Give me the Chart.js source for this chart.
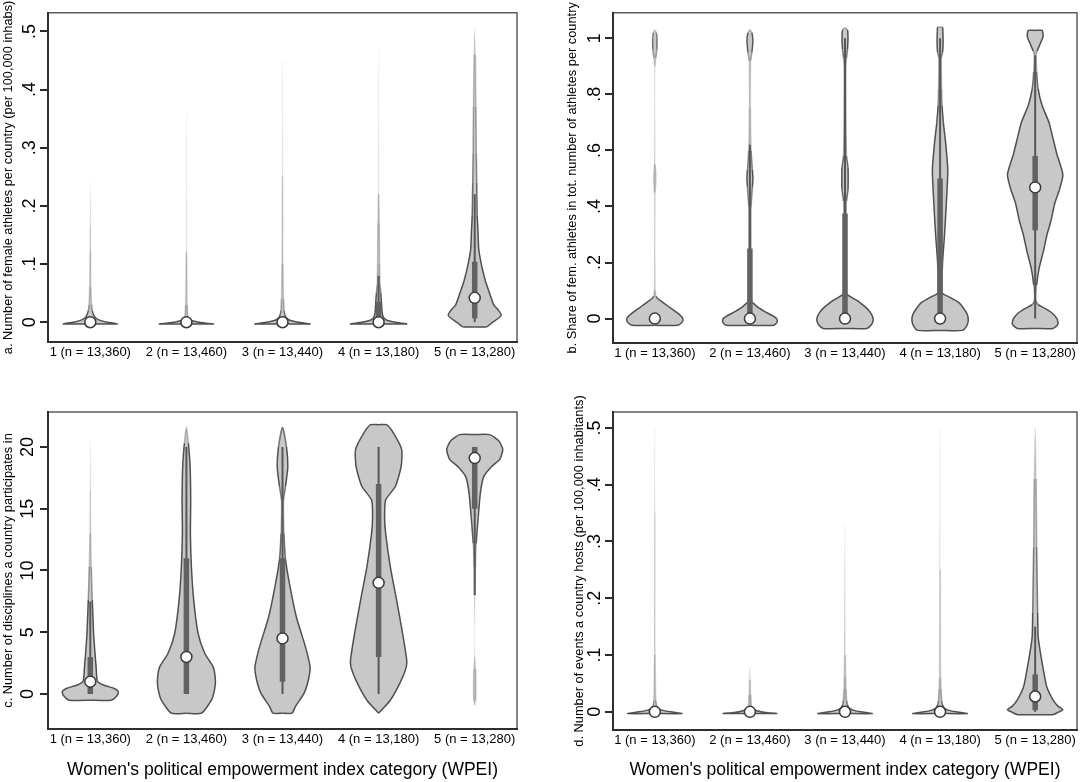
<!DOCTYPE html>
<html lang="en">
<head>
<meta charset="UTF-8">
<title>Violin plots by WPEI category</title>
<script src="https://cdn.jsdelivr.net/npm/chart.js@4"></script>
<style>
  body { margin: 0; background: #fff; }
  #wrap { position: relative; width: 1084px; height: 782px; }
  canvas { position: absolute; }
</style>
</head>
<body>
<div id="wrap">
  <canvas id="panelA" width="540" height="380" style="left:0;top:0"></canvas>
  <canvas id="panelB" width="544" height="380" style="left:540px;top:0"></canvas>
  <canvas id="panelC" width="540" height="392" style="left:0;top:390px"></canvas>
  <canvas id="panelD" width="544" height="392" style="left:540px;top:390px"></canvas>
</div>
<script>
// categories
const cats = [1, 2, 3, 4, 5];
const catLabels = ['1 (n = 13,360)', '2 (n = 13,460)', '3 (n = 13,440)', '4 (n = 13,180)', '5 (n = 13,280)'];
const xTitle = "Women's political empowerment index category (WPEI)";

// panel a - female athletes per 100,000 inhabitants
const aTicks = [0, .1, .2, .3, .4, .5];
const aTickLabels = ['0', '.1', '.2', '.3', '.4', '.5'];
const aLevels = [
  [-0.003, 0.0, 0.004, 0.009, 0.014, 0.02, 0.03, 0.06, 0.12, 0.165, 0.24],
  [-0.003, -0.001, 0.002, 0.005, 0.009, 0.03, 0.12, 0.36],
  [-0.003, 0.0, 0.003, 0.007, 0.012, 0.02, 0.04, 0.1, 0.25, 0.45],
  [-0.003, 0.0, 0.003, 0.007, 0.012, 0.02, 0.03, 0.05, 0.065, 0.1, 0.17, 0.22, 0.47],
  [-0.008, 0.0, 0.006, 0.012, 0.02, 0.03, 0.049, 0.071, 0.099, 0.126, 0.155, 0.183, 0.24, 0.29, 0.37, 0.46, 0.505]
];
const aDens = [
  [27, 17, 8.5, 4.5, 3, 2, 1.2, 0.7, 0.45, 0.3, 0],
  [27, 16, 7, 3, 1.5, 0.8, 0.4, 0],
  [27.5, 16, 8, 4, 2.5, 1.6, 1, 0.6, 0.3, 0],
  [28, 17, 9, 5.5, 4, 3.3, 3, 2.2, 1.3, 1, 0.8, 0.4, 0],
  [11.7, 18, 23, 26.5, 24, 19, 15, 10.7, 6.7, 4, 3.3, 2.5, 2, 1.6, 1.2, 0.7, 0]
];
const aMedian = [0, 0, 0, 0, 0.042];
const aQ1 = [0, 0, 0, 0, 0.007];
const aQ3 = [0.002, 0.001, 0.002, 0.035, 0.104];
const aWhiskLo = [0, 0, 0, 0, 0];
const aWhiskHi = [0.004, 0.002, 0.004, 0.08, 0.22];

// panel b - share of female athletes
const bTicks = [0, .2, .4, .6, .8, 1];
const bTickLabels = ['0', '.2', '.4', '.6', '.8', '1'];
const bLevels = [
  [-0.024, -0.015, -0.005, 0.005, 0.017, 0.03, 0.045, 0.058, 0.07, 0.08, 0.1, 0.2, 0.45, 0.5, 0.55, 0.7, 0.9, 0.93, 0.96, 1.0, 1.02, 1.03],
  [-0.024, -0.012, 0.0, 0.012, 0.025, 0.038, 0.05, 0.058, 0.07, 0.15, 0.25, 0.4, 0.47, 0.5, 0.53, 0.6, 0.75, 0.92, 0.95, 0.99, 1.02, 1.03],
  [-0.035, -0.02, -0.005, 0.01, 0.025, 0.04, 0.052, 0.065, 0.075, 0.087, 0.1, 0.2, 0.37, 0.42, 0.46, 0.5, 0.54, 0.58, 0.65, 0.8, 0.9, 0.93, 0.96, 1.0, 1.03, 1.037],
  [-0.042, -0.025, -0.005, 0.015, 0.035, 0.056, 0.077, 0.09, 0.12, 0.2, 0.3, 0.41, 0.53, 0.62, 0.7, 0.76, 0.82, 0.93, 0.95, 0.98, 1.0, 1.025, 1.04],
  [-0.035, -0.02, 0.0, 0.02, 0.038, 0.05, 0.065, 0.12, 0.18, 0.24, 0.30, 0.35, 0.41, 0.46, 0.51, 0.53, 0.59, 0.65, 0.70, 0.76, 0.82, 0.88, 0.944, 0.955, 0.98, 1.007, 1.028]
];
const bDens = [
  [23, 27, 28.5, 27.5, 24, 19, 13, 8, 3.5, 1.2, 0.5, 0.3, 0.4, 1.2, 0.4, 0.2, 0.3, 1, 2, 2.2, 1.5, 0],
  [24, 27.5, 27, 22, 15, 9, 5, 2.5, 1.5, 1.2, 1.2, 1.2, 2.5, 3, 2.5, 1.2, 0.5, 0.8, 2, 3, 2, 0],
  [22, 27, 28.5, 27.5, 25, 21, 17, 12, 7, 2, 1.5, 1.2, 1.2, 1.5, 3, 3.2, 3, 1.5, 1.2, 1, 1, 1.5, 2.5, 3, 2.5, 0],
  [22.5, 27, 28.5, 27.5, 24, 19.3, 9.3, 2.5, 2, 2.5, 4.5, 6.3, 7.8, 5.8, 3.3, 2, 1.5, 1.2, 2.5, 3, 3, 2.8, 2.5],
  [18, 23, 22, 17, 9, 3, 0.8, 1.5, 4, 8.3, 12, 16, 19.7, 24.5, 28, 27, 21.7, 17.5, 14, 7, 3, 1.5, 1, 2, 5, 8, 7]
];
const bMedian = [0, 0, 0, 0, 0.468];
const bQ1 = [0, 0, 0, 0, 0.315];
const bQ3 = [0.005, 0.25, 0.375, 0.5, 0.58];
const bWhiskLo = [0, 0, 0, 0, 0];
const bWhiskHi = [0.005, 0.62, 1.0, 1.0, 0.94];

// panel c - number of disciplines
const cTicks = [0, 5, 10, 15, 20];
const cTickLabels = ['0', '5', '10', '15', '20'];
const cLevels = [
  [-0.5, -0.1, 0.2, 0.45, 0.65, 0.85, 1.05, 1.5, 2.2, 3.5, 4.9, 7.6, 10.3, 13, 16.5, 20.6],
  [-1.55, -0.5, 0.3, 1.1, 2.2, 3.3, 4.9, 7.6, 10.3, 13, 15.7, 18.4, 20.3, 21.6],
  [-1.55, -1.0, 0.1, 1.2, 2.2, 3.8, 6.2, 8.7, 10.9, 13, 15.7, 16.8, 18.4, 20, 21.6],
  [-1.55, -0.5, 1.0, 2.2, 2.8, 4.9, 7.6, 10.3, 13, 14.3, 15.7, 16.8, 18.4, 19.8, 21.1, 21.8],
  [-0.9, -0.5, 2.0, 3.0, 5.5, 8.2, 10.3, 12.2, 14.3, 16.3, 17.6, 18.4, 19.0, 19.8, 20.5, 21.0]
];
const cDens = [
  [21, 27, 28, 24, 16, 10, 7, 6.3, 5.8, 4.5, 3.3, 2, 1, 0.5, 0.3, 0],
  [15, 25, 28, 29, 26.7, 18.3, 11.7, 7.3, 5, 4, 4.3, 3.7, 2, 0],
  [9.5, 13, 21.7, 26, 27.5, 23, 14, 7.5, 3, 1.5, 1, 3, 5.3, 4, 0],
  [0, 11.7, 22, 27.7, 28, 24, 18, 11.7, 7, 6, 7, 16.7, 22.5, 23, 15, 8],
  [0, 1.0, 0.9, 0.15, 0.05, 0.5, 0.8, 1.5, 3.5, 5.7, 9, 16.7, 25, 28, 24, 15]
];
const cMedian = [1, 3, 4.5, 9, 19.1];
const cQ1 = [0, 0, 1, 3, 15];
const cQ3 = [3, 11, 11, 17, 20];
const cWhiskLo = [0, 0, 0, 0, 8];
const cWhiskHi = [7.5, 20, 20, 20, 20];

// panel d - events hosted per 100,000 inhabitants
const dTicks = [0, .1, .2, .3, .4, .5];
const dTickLabels = ['0', '.1', '.2', '.3', '.4', '.5'];
const dLevels = [
  [-0.003, 0.0, 0.003, 0.006, 0.01, 0.02, 0.1, 0.35, 0.5],
  [-0.003, -0.001, 0.002, 0.005, 0.009, 0.03, 0.056, 0.08],
  [-0.003, 0.0, 0.003, 0.007, 0.012, 0.02, 0.04, 0.06, 0.1, 0.33],
  [-0.003, 0.0, 0.003, 0.007, 0.012, 0.02, 0.04, 0.06, 0.25, 0.5],
  [-0.005, 0.0, 0.0035, 0.01, 0.021, 0.044, 0.074, 0.104, 0.132, 0.174, 0.29, 0.41, 0.5]
];
const dDens = [
  [27.5, 16, 7, 3.5, 2, 1, 0.4, 0.3, 0],
  [27, 16, 7, 3, 1.5, 0.8, 0.5, 0],
  [27.5, 16, 8, 4, 2.5, 1.6, 1, 0.8, 0.5, 0],
  [27.5, 16, 8, 4, 2.5, 1.6, 1, 0.7, 0.3, 0],
  [17.5, 24, 28, 23, 18, 11.7, 8.3, 5.3, 3, 2.5, 1.5, 1, 0]
];
const dMedian = [0, 0, 0, 0, 0.027];
const dQ1 = [0, 0, 0, 0, 0.003];
const dQ3 = [0.002, 0.001, 0.002, 0.002, 0.066];
const dWhiskLo = [0, 0, 0, 0, 0];
const dWhiskHi = [0.003, 0.002, 0.004, 0.004, 0.15];

// density -> half width in category units
const widthPerDens = 1 / 96;
const FONT = "'Liberation Sans', Arial, sans-serif";

function violinPoints(c, levels, dens) {
  const n = levels.length - 1;
  const right = levels.map((y, i) => ({ x: c + dens[i] * widthPerDens, y }));
  const left = levels.map((y, i) => ({ x: c - dens[i] * widthPerDens, y })).reverse();
  if (dens[n] === 0) left.shift();
  const pts = [];
  if (dens[0] > 0) pts.push({ x: c, y: levels[0] });
  pts.push(...right);
  if (dens[n] > 0) pts.push({ x: c, y: levels[n] });
  pts.push(...left);
  if (dens[0] > 0) pts.push({ x: c, y: levels[0] });
  return pts;
}

// outline gets lighter where the violin is only a hair wide
function fade(ctx) {
  const ds = ctx.chart.data.datasets[ctx.datasetIndex];
  const cx = ctx.chart.scales.x.getPixelForValue(ds.cat);
  const w = (Math.abs(ctx.p0.x - cx) + Math.abs(ctx.p1.x - cx)) / 2;
  const a = Math.max(0.04, Math.min(1, (w - 0.15) * 0.4));
  return 'rgba(80,80,80,' + a.toFixed(3) + ')';
}

const frame = {
  id: 'frame',
  afterDraw(chart) {
    const { ctx, chartArea: a } = chart;
    ctx.save();
    ctx.strokeStyle = '#333';
    ctx.lineWidth = 1.2;
    ctx.strokeRect(a.left, a.top, a.right - a.left, a.bottom - a.top);
    ctx.restore();
  }
};

function makePanel(id, p) {
  const datasets = [];
  cats.forEach((c, i) => {
    const pts = violinPoints(c, p.levels[i], p.dens[i]);
    datasets.push({ data: pts, fill: 'shape', backgroundColor: '#c8c8c8', borderWidth: 0, pointRadius: 0, tension: 0.2, order: 5 });
    datasets.push({ data: pts, cat: c, fill: false, borderColor: '#505050', borderWidth: 1.5, pointRadius: 0, tension: 0.2, segment: { borderColor: fade }, order: 4 });
    datasets.push({ data: [{ x: c, y: p.wLo[i] }, { x: c, y: p.wHi[i] }], borderColor: '#575757', borderWidth: 2, pointRadius: 0, fill: false, order: 3 });
    datasets.push({ data: [{ x: c, y: p.q1[i] }, { x: c, y: p.q3[i] }], borderColor: '#626262', borderWidth: 5.5, borderCapStyle: 'butt', pointRadius: 0, fill: false, order: 2 });
  });
  datasets.push({
    data: cats.map((c, i) => ({ x: c, y: p.median[i] })),
    showLine: false, pointRadius: 5.5, pointBackgroundColor: '#fff',
    pointBorderColor: '#3a3a3a', pointBorderWidth: 1.5, order: 1
  });

  new Chart(document.getElementById(id), {
    type: 'line',
    data: { datasets },
    plugins: [frame],
    options: {
      responsive: false,
      animation: false,
      events: [],
      devicePixelRatio: 1,
      layout: { padding: { left: 0, top: p.padTop, right: p.padRight, bottom: 0 } },
      plugins: { legend: { display: false }, tooltip: { enabled: false } },
      scales: {
        x: {
          type: 'linear', min: 0.56, max: 5.44,
          afterBuildTicks: s => { s.ticks = cats.map(v => ({ value: v })); },
          afterFit: s => { s.height = p.xH; },
          grid: { display: false, drawTicks: false },
          border: { display: true, color: '#2a2a2a', width: 2 },
          ticks: { callback: (v, i) => catLabels[i], color: '#000', font: { family: FONT, size: 13 }, padding: 3, maxRotation: 0, autoSkip: false },
          title: { display: p.showX, text: xTitle, color: '#000', font: { family: FONT, size: 17.5 }, padding: { top: 0, bottom: 1.5 } }
        },
        y: {
          type: 'linear', min: p.yMin, max: p.yMax,
          afterBuildTicks: s => { s.ticks = p.ticks.map(v => ({ value: v })); },
          afterFit: s => { s.width = p.yW; },
          grid: { drawOnChartArea: false, drawTicks: true, tickLength: 8, color: '#2a2a2a', lineWidth: 2 },
          border: { display: true, color: '#2a2a2a', width: 2 },
          ticks: { callback: (v, i) => p.tickLabels[i], minRotation: 90, maxRotation: 90, crossAlign: 'center', padding: 2, color: '#000', font: { family: FONT, size: 18 } },
          title: { display: true, text: p.yTitle, color: '#000', font: { family: FONT, size: 12.8 }, padding: { top: p.titlePad, bottom: 0 } }
        }
      }
    }
  });
}

makePanel('panelA', {
  levels: aLevels, dens: aDens, median: aMedian, q1: aQ1, q3: aQ3, wLo: aWhiskLo, wHi: aWhiskHi,
  ticks: aTicks, tickLabels: aTickLabels, yMin: -0.034, yMax: 0.532,
  yTitle: 'a. Number of female athletes per country (per 100,000 inhabs)',
  yW: 48, xH: 38, padTop: 6, padRight: 23, titlePad: 1, showX: false
});
makePanel('panelB', {
  levels: bLevels, dens: bDens, median: bMedian, q1: bQ1, q3: bQ3, wLo: bWhiskLo, wHi: bWhiskHi,
  ticks: bTicks, tickLabels: bTickLabels, yMin: -0.087, yMax: 1.091,
  yTitle: 'b. Share of fem. athletes in tot. number of athletes per country',
  yW: 73, xH: 37, padTop: 6, padRight: 3, titlePad: 25, showX: false
});
makePanel('panelC', {
  levels: cLevels, dens: cDens, median: cMedian, q1: cQ1, q3: cQ3, wLo: cWhiskLo, wHi: cWhiskHi,
  ticks: cTicks, tickLabels: cTickLabels, yMin: -2.83, yMax: 22.83,
  yTitle: 'c. Number of disciplines a country participates in',
  yW: 48, xH: 53, padTop: 22, padRight: 23, titlePad: 1, showX: true
});
makePanel('panelD', {
  levels: dLevels, dens: dDens, median: dMedian, q1: dQ1, q3: dQ3, wLo: dWhiskLo, wHi: dWhiskHi,
  ticks: dTicks, tickLabels: dTickLabels, yMin: -0.032, yMax: 0.528,
  yTitle: 'd. Number of events a country hosts (per 100,000 inhabitants)',
  yW: 73, xH: 52, padTop: 22, padRight: 3, titlePad: 32, showX: true
});
</script>
</body>
</html>
